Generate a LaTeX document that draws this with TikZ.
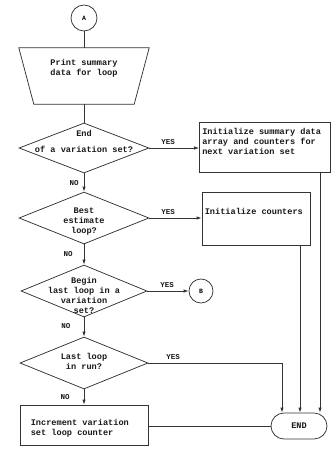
\documentclass[tikz,border=0pt]{standalone}
\usepackage{fontspec}
\setmonofont{Liberation Mono}
\usetikzlibrary{shapes.geometric,shapes.misc,arrows.meta,calc}
\begin{document}
\begin{tikzpicture}[x=1pt,y=-1pt,
  ink/.style={draw=black!80, line width=0.75pt},
  mono/.style={font=\ttfamily\bfseries\fontsize{8.6}{10}\selectfont, text=black!90, inner sep=0pt},
  tag/.style={font=\ttfamily\bfseries\fontsize{7.5}{9}\selectfont, text=black!90, inner sep=0pt},
  decision/.style={ink, diamond, inner sep=0pt},
  process/.style={ink, rectangle, inner sep=0pt},
  connector/.style={ink, circle, inner sep=0pt, font=\ttfamily\bfseries\fontsize{6.5}{7}\selectfont},
  flow/.style={ink, -{Latex[length=5pt,width=3.4pt]}}]
\useasboundingbox (0,0) rectangle (336,455);

% main column
\node[connector, minimum size=26pt] (A) at (84,18) {A};
% manual-output block: wide top edge, narrower bottom edge
\node[inner sep=0pt, minimum width=130pt, minimum height=56pt] (tr) at (84,76) {};
\draw[ink] (tr.north west) -- (tr.north east) -- ($(tr.south east)+(-15,0)$)
  -- ($(tr.south west)+(15,0)$) -- cycle;
\node[mono, align=center] (trt) at (84,68) {Print summary\\data for loop};

\node[decision, minimum width=130pt, minimum height=50pt] (d1) at (84,148) {};
\node[mono, align=center] (d1t) at (84,141) {End\\[6pt]of a variation set?};

\node[decision, minimum width=130pt, minimum height=52pt] (d2) at (84,218) {};
\node[mono, align=center] (d2t) at (84,222) {Best\\estimate\\loop?};

\node[decision, minimum width=126pt, minimum height=52pt] (d3) at (84,291) {};
\node[mono, align=center] (d3t) at (84,295) {Begin\\last loop in a\\variation\\set?};

\node[decision, minimum width=128pt, minimum height=52pt] (d4) at (84,363) {};
\node[mono, align=center] (d4t) at (84,361) {Last loop\\in run?};

\node[process, minimum width=128pt, minimum height=40pt] (b3) at (84,425) {};
\node[mono, align=left, anchor=west] (b3t) at ($(b3.west)+(11,3)$) {Increment variation\\set loop counter};

% right column
\node[process, minimum width=131pt, minimum height=50pt] (b1) at (265,147) {};
\node[mono, align=left, anchor=north west] (b1t) at ($(b1.north west)+(3,6)$) {Initialize summary data\\array and counters for\\next variation set};

\node[process, minimum width=108pt, minimum height=53pt] (b2) at (256,219) {};
\node[mono, anchor=west] (b2t) at ($(b2.north west)+(3,19)$) {Initialize counters};

\node[connector, minimum size=24pt] (B) at (201,291) {B};

\node[ink, rounded rectangle, minimum width=56pt, minimum height=26pt, mono] (endn) at (299,426) {END};

% connectors
\coordinate (c3) at (282,0);
\coordinate (c2) at (300,0);
\coordinate (c1) at (320,0);

\draw[ink] (A) -- (tr.north);
\draw[ink] (tr.south) -- (d1);
\draw[flow] (d1) -- (d2);
\draw[flow] (d2) -- (d3);
\draw[flow] (d3) -- (d4);
\draw[flow] (d4) -- (b3);
\draw[flow] (d1.east) -- (d1.east -| b1.west);
\draw[flow] (d2.east) -- (d2.east -| b2.west);
\draw[flow] (d3.east) -- (B);
\draw[flow] (d4.east) -- (d4.east -| c3) -- (endn.north -| c3);
\draw[flow] (b2.south -| c2) -- (endn.north -| c2);
\draw[flow] (b1.south -| c1) -- (endn.north -| c1);
\draw[ink] (b3.east |- endn.west) -- (endn.west);

% branch labels
\node[tag] (y1) at (168,142) {YES};
\node[tag] (y2) at (168,212) {YES};
\node[tag] (y3) at (167,285) {YES};
\node[tag] (y4) at (173,357) {YES};
\node[tag] (n1) at (74,183) {NO};
\node[tag] (n2) at (68,254) {NO};
\node[tag] (n3) at (66,326) {NO};
\node[tag] (n4) at (65,397) {NO};
\end{tikzpicture}
\end{document}
